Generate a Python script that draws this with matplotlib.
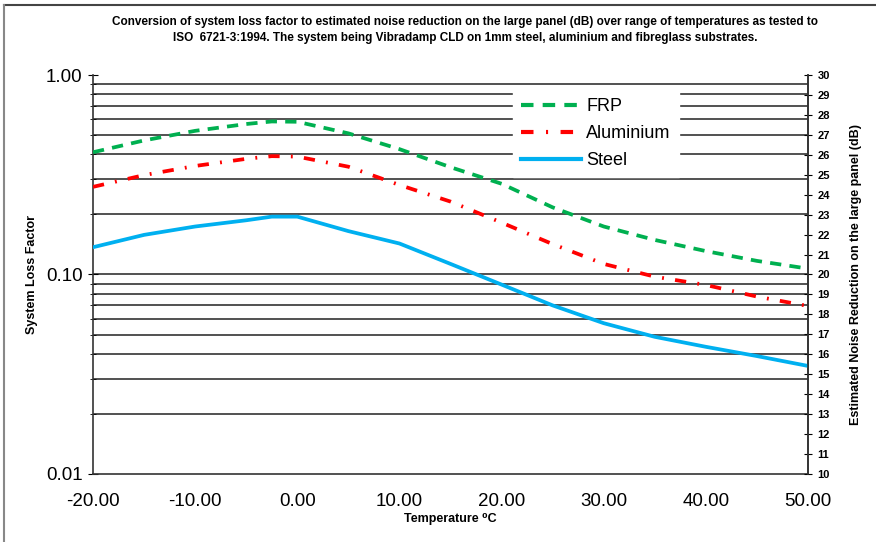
import matplotlib.pyplot as plt
import matplotlib.ticker as mticker
from matplotlib.lines import Line2D

plt.rcParams['font.family'] = ['Liberation Sans', 'DejaVu Sans']

# temperatures (deg C) and system loss factor
temps = [-20, -15, -10, -5, -2.5, 0, 5, 10, 15, 20, 25, 30, 35, 40, 45, 50]
frp = [0.41, 0.47, 0.525, 0.568, 0.585, 0.583, 0.51, 0.425, 0.345, 0.285, 0.217, 0.174,
       0.149, 0.131, 0.117, 0.107]
aluminium = [0.275, 0.315, 0.35, 0.38, 0.392, 0.39, 0.347, 0.281, 0.232, 0.182, 0.142,
             0.113, 0.0975, 0.0886, 0.0775, 0.0695]
steel = [0.137, 0.158, 0.174, 0.187, 0.195, 0.195, 0.165, 0.143, 0.113, 0.089, 0.07,
         0.057, 0.0487, 0.0434, 0.039, 0.0348]

xticks = [-20, -10, 0, 10, 20, 30, 40, 50]
db_ticks = list(range(10, 31))

fig = plt.figure(figsize=(8.76, 5.42), dpi=100)
ax = fig.add_axes([0.1062, 0.1255, 0.8162, 0.7361])

# gridlines at every log tick
for v in [0.02, 0.03, 0.04, 0.05, 0.06, 0.07, 0.08, 0.09, 0.1,
          0.2, 0.3, 0.4, 0.5, 0.6, 0.7, 0.8, 0.9]:
    ax.axhline(v, color='#222222', lw=1.1, zorder=1)

ax.plot(temps, frp, color='#00B050', lw=2.7, dashes=(3, 2.2), label='FRP', zorder=3)
ax.plot(temps, aluminium, color='#FF0000', lw=2.7, dashes=(3, 3, 0.5, 3),
        label='Aluminium', zorder=3)
ax.plot(temps, steel, color='#00B0F0', lw=2.7, label='Steel', zorder=3)

ax.set_yscale('log')
ax.set_ylim(0.01, 1)
ax.set_xlim(-20, 50)
ax.set_xticks(xticks)
ax.set_xticklabels(['%.2f' % t for t in xticks], fontsize=13.5)
ax.tick_params(axis='x', length=0, pad=14)
ax.set_yticks([0.01, 0.1, 1])
ax.set_yticklabels(['0.01', '0.10', '1.00'], fontsize=13.5)
ax.yaxis.set_minor_locator(mticker.LogLocator(subs=range(2, 10)))
ax.yaxis.set_minor_formatter(mticker.NullFormatter())
ax.tick_params(axis='y', which='major', length=7, direction='inout', pad=4)
ax.tick_params(axis='y', which='minor', length=5, direction='inout')
for s in ax.spines.values():
    s.set_color('#333333')
    s.set_linewidth(1.2)
ax.spines['top'].set_visible(False)

ax.set_ylabel('System Loss Factor', fontsize=9, fontweight='bold', labelpad=6)
ax.set_xlabel('Temperature ⁰C', fontsize=9, fontweight='bold', labelpad=2)

ax2 = ax.twinx()
ax2.set_ylim(10, 30)
ax2.set_yticks(db_ticks)
ax2.set_yticklabels([str(d) for d in db_ticks], fontsize=8, fontweight='bold')
ax2.tick_params(axis='y', length=6, direction='inout', pad=4)
for s in ax2.spines.values():
    s.set_visible(False)
ax2.spines['right'].set_visible(True)
ax2.spines['right'].set_color('#333333')
ax2.spines['right'].set_linewidth(1.2)
ax2.set_ylabel('Estimated Noise Reduction on the large panel (dB)', fontsize=9,
               fontweight='bold', labelpad=14)

handles = [Line2D([], [], color='#00B050', lw=3, dashes=(3, 2.2)),
           Line2D([], [], color='#FF0000', lw=3, dashes=(3, 3, 0.5, 3)),
           Line2D([], [], color='#00B0F0', lw=3)]
leg = ax.legend(handles, ['FRP', 'Aluminium', 'Steel'], loc='upper left',
                bbox_to_anchor=(0.575, 0.985), frameon=True, fancybox=False,
                edgecolor='white', framealpha=1, fontsize=13, handlelength=3.3,
                handletextpad=0.3, labelspacing=0.55, borderpad=0.45)
leg.set_zorder(5)

fig.text(0.531, 0.945,
         'Conversion of system loss factor to estimated noise reduction on the large panel (dB) '
         'over range of temperatures as tested to\n'
         'ISO  6721-3:1994. The system being Vibradamp CLD on 1mm steel, aluminium and '
         'fibreglass substrates.',
         ha='center', va='center', fontsize=8.5, fontweight='bold', linespacing=1.45)

# outer chart border (top and left visible)
fig.add_artist(Line2D([0.005, 1.0], [0.991, 0.991], color='#444444', lw=1.5))
fig.add_artist(Line2D([0.005, 0.005], [0.0, 0.991], color='#888888', lw=1.5))

fig.savefig('out.png', dpi=100)
